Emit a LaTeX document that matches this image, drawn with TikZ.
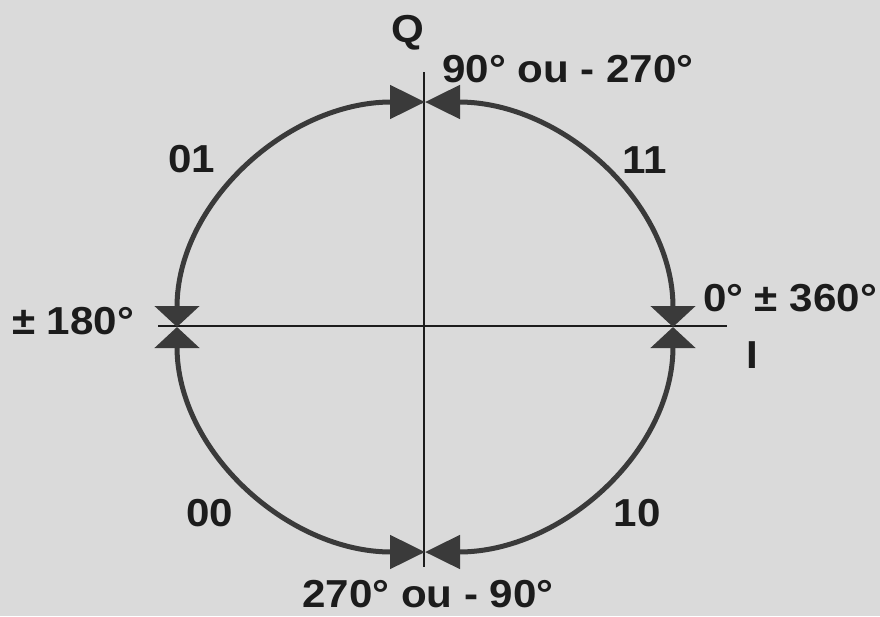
\documentclass[tikz,border=0pt]{standalone}
\usepackage{fontspec}
\setmainfont{Liberation Sans}
\usetikzlibrary{arrows.meta}
\definecolor{fond}{RGB}{218,218,218}
\definecolor{trait}{RGB}{58,58,58}
\definecolor{encre}{RGB}{28,28,28}
\tikzset{
  lbl/.style={text=encre, inner sep=0pt, font=\fontsize{39}{40}\selectfont\bfseries},
  quart/.style={draw=trait, line width=5pt},
  tipv/.tip={Triangle[length=21pt, width=44pt, fill=trait]},
  tiph/.tip={Triangle[length=35pt, width=33pt, fill=trait]}
}
\newcommand{\lb}[1]{\scalebox{1.08}[1]{#1}}
\begin{document}
\begin{tikzpicture}[x=1pt, y=1pt]
  \fill[fond] (0, 0) rectangle (880, -616);
  \useasboundingbox (0, 0) rectangle (880, -616);
  % axes
  \coordinate (O) at (425, -327);
  \coordinate (E) at (673, -327);
  \coordinate (N) at (425, -102);
  \coordinate (W) at (177, -327);
  \coordinate (S) at (425, -552);
  \draw[encre, line width=1.6pt] (158, -326) -- (727, -326);
  \draw[encre, line width=1.6pt] (424, -72) -- (424, -567);
  % quadrant arcs
  \draw[quart, tipv-tiph] (E) arc[start angle=0, end angle=90, x radius=248pt, y radius=225pt];
  \draw[quart, tiph-tipv] (N) arc[start angle=90, end angle=180, x radius=248pt, y radius=225pt];
  \draw[quart, tipv-tiph] (W) arc[start angle=180, end angle=270, x radius=248pt, y radius=225pt];
  \draw[quart, tiph-tipv] (S) arc[start angle=270, end angle=360, x radius=248pt, y radius=225pt];
  % labels
  \node[lbl] (q) at (408, -33) {\lb{Q}};
  \node[lbl] (i) at (752, -355) {\lb{I}};
  \node[lbl] (haut) at (568, -69) {\lb{90° ou - 270°}};
  \node[lbl] (bas) at (428, -594) {\lb{270° ou - 90°}};
  \node[lbl] (gauche) at (73, -321) {\lb{± 180°}};
  \node[lbl] (droite) at (790, -298) {\lb{0° ± 360°}};
  \node[lbl] (q01) at (192, -159) {\lb{01}};
  \node[lbl] (q11) at (645, -160) {\lb{11}};
  \node[lbl] (q00) at (210, -513) {\lb{00}};
  \node[lbl] (q10) at (637, -513) {\lb{10}};
\end{tikzpicture}
\end{document}
